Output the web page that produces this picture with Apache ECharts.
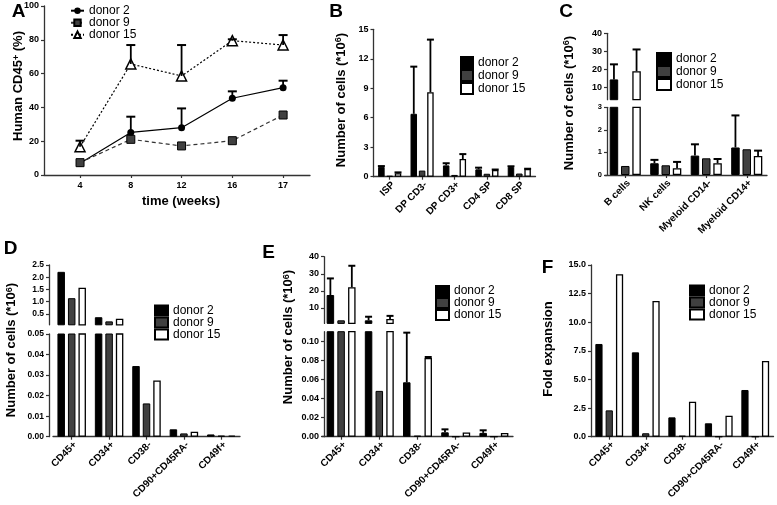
<!DOCTYPE html>
<html><head><meta charset="utf-8">
<script src="https://cdn.jsdelivr.net/npm/echarts@6/dist/echarts.min.js"></script>
<style>html,body{margin:0;padding:0;background:#fff}#c{width:777px;height:505px}</style>
</head><body><div id="c"></div>
<script>
// ---------- DATA ----------
// Panel A: Human CD45+ (%) over time
const weeks = ['4', '8', '12', '16', '17'];
const aDonor2 = [7, 25.2, 28, 45.4, 51.7];
const aDonor2Err = [0, 9.3, 11.4, 4.1, 4.1];
const aDonor9 = [7.3, 21.1, 17.2, 20.3, 35.5];
const aDonor15 = [16.7, 65.7, 58.6, 79.5, 76.9];
const aDonor15Err = [3.6, 11.2, 18.3, 0.8, 5.9];

// Panel B: thymus subsets
const bCats = ['ISP', 'DP CD3-', 'DP CD3+', 'CD4 SP', 'CD8 SP'];
const bDonor2 = [1.0, 6.4, 1.15, 0.75, 0.98];
const bDonor2Err = [0.08, 4.8, 0.22, 0.17, 0.08];
const bDonor9 = [0.08, 0.62, 0.18, 0.3, 0.32];
const bDonor15 = [0.36, 8.6, 1.8, 0.68, 0.78];
const bDonor15Err = [0.08, 5.35, 0.5, 0.05, 0.03];

// Panel C: other lineages
const cCats = ['B cells', 'NK cells', 'Myeloid CD14-', 'Myeloid CD14+'];
const cDonor2 = [14.3, 0.52, 0.86, 1.22];
const cDonor2Err = [8.4, 0.15, 0.5, 1.42];
const cDonor9 = [0.4, 0.43, 0.74, 1.14];
const cDonor15 = [18.9, 0.3, 0.52, 0.84];
const cDonor15Err = [12.1, 0.28, 0.19, 0.24];

// Panels D, E, F: stem/progenitor subsets
const sCats = ['CD45+', 'CD34+', 'CD38-', 'CD90+CD45RA-', 'CD49f+'];
const dDonor2 = [2.22, 0.36, 0.0344, 0.0036, 0.0011];
const dDonor9 = [1.14, 0.19, 0.0162, 0.0016, 0.0005];
const dDonor15 = [1.57, 0.3, 0.0274, 0.0024, 0.0006];

const eDonor2 = [17.6, 2.8, 0.057, 0.0046, 0.004];
const eDonor2Err = [9.7, 2.1, 0.052, 0.0031, 0.0027];
const eDonor9 = [2.8, 0.048, 0.001, 0, 0];
const eDonor15 = [22.1, 3.6, 0.0825, 0.0045, 0.004];
const eDonor15Err = [12.6, 1.8, 0.001, 0, 0];

const fDonor2 = [8.1, 7.37, 1.69, 1.17, 4.08];
const fDonor9 = [2.3, 0.3, 0.08, 0, 0];
const fDonor15 = [14.2, 11.86, 3.06, 1.84, 6.61];

// tick labels
const cUpperTicks = [10, 20, 30, 40];
const dUpperTicks = [0.5, 1.0, 1.5, 2.0, 2.5];
const eUpperTicks = [10, 20, 30, 40];
const eLowerTicks = [0, 0.02, 0.04, 0.06, 0.08, 0.10];

// ---------- STYLE ----------
const FONT = '"Liberation Sans", Arial, sans-serif';
const AXC = '#333';
const BLACK = '#000', GRAY = '#404040', WHITE = '#fff';
const axisLine = {show: true, onZero: false, lineStyle: {color: AXC, width: 1.3}};

function catX(gi, cats, show) {
  return {
    type: 'category', gridIndex: gi, data: cats, show: show,
    axisLine: axisLine,
    axisTick: {show: true, alignWithLabel: true, length: 3, lineStyle: {color: AXC, width: 1.2}},
    axisLabel: {rotate: 45, interval: 0, fontSize: 10, fontWeight: 'bold', color: '#000', margin: 3,
      verticalAlign: 'top', fontFamily: FONT},
    splitLine: {show: false}
  };
}
function valY(gi, o) {
  const ax = {
    type: 'value', gridIndex: gi, min: o.min, max: o.max, offset: o.offset || 0,
    splitLine: {show: false},
    axisLine: axisLine,
    axisTick: {show: true, length: 3, lineStyle: {color: AXC, width: 1.2}},
    axisLabel: {fontSize: o.fs || 9, fontWeight: 'bold', color: '#000', margin: 5, fontFamily: FONT,
      formatter: o.fmt || (v => String(v))}
  };
  if (o.interval) ax.interval = o.interval;
  if (o.ticks) { ax.axisTick.customValues = o.ticks; ax.axisLabel.customValues = o.ticks; }
  return ax;
}
function barSeries(p, xi, yi, w, gap, d2, d9, d15) {
  const base = {type: 'bar', xAxisIndex: xi, yAxisIndex: yi, barWidth: w, barGap: gap, z: 2, clip: true};
  return [
    Object.assign({}, base, {name: p + 'donor 2', data: d2, itemStyle: {color: BLACK, borderColor: '#000', borderWidth: 1}}),
    Object.assign({}, base, {name: p + 'donor 9', data: d9, itemStyle: {color: GRAY, borderColor: '#000', borderWidth: 1}}),
    Object.assign({}, base, {name: p + 'donor 15', data: d15, itemStyle: {color: WHITE, borderColor: '#000', borderWidth: 1.3}})
  ];
}
function errSeries(xi, yi, vals, errs, offset, halfCap) {
  return {
    type: 'custom', xAxisIndex: xi, yAxisIndex: yi, z: 5, silent: true,
    data: vals.map((v, i) => [i, v, errs[i]]),
    encode: {x: 0, y: 1},
    renderItem: function (params, api) {
      const empty = {type: 'group', children: []};
      const e = api.value(2);
      if (!e) return empty;
      const x = api.value(0), v = api.value(1);
      const p0 = api.coord([x, v]);
      const p1 = api.coord([x, v + e]);
      const cs = params.coordSys;
      const top = cs.y, bottom = cs.y + cs.height;
      if (p1[1] > bottom + 0.5 || p0[1] < top - 0.5) return empty;
      const y0 = Math.min(p0[1], bottom), y1 = Math.max(p1[1], top);
      const cx = p0[0] + offset;
      const ch = [{type: 'line', shape: {x1: cx, y1: y0, x2: cx, y2: y1}, style: {stroke: '#000', lineWidth: 1.8}}];
      if (p1[1] >= top - 0.5) ch.push({type: 'line', shape: {x1: cx - halfCap, y1: p1[1], x2: cx + halfCap, y2: p1[1]}, style: {stroke: '#000', lineWidth: 2}});
      return {type: 'group', children: ch};
    }
  };
}
function legend(p, left, top, iw, ih, lh, icon) {
  const l = {
    orient: 'vertical', left: left, top: top, padding: 0, itemGap: 0,
    itemWidth: iw, itemHeight: ih,
    textStyle: {fontSize: 12, lineHeight: lh, color: '#000', fontFamily: FONT},
    data: [p + 'donor 2', p + 'donor 9', p + 'donor 15'],
    formatter: n => n.slice(2)
  };
  if (icon) l.icon = icon;
  return l;
}
const supRich = {
  b: {fontSize: 13, fontWeight: 'bold', fontFamily: FONT, fill: '#000', color: '#000'},
  s: {fontSize: 9, fontWeight: 'bold', fontFamily: FONT, fill: '#000', color: '#000', verticalAlign: 'top', padding: [0, 0, 4, 0]}
};
function label(txt, x, y, rot, size) {
  return {
    type: 'text', x: x, y: y, rotation: rot, z: 100,
    style: {text: txt, rich: supRich, fontSize: size || 13, fontWeight: 'bold', fontFamily: FONT, fill: '#000',
      align: 'center', verticalAlign: 'middle', textAlign: 'center', textVerticalAlign: 'middle'}
  };
}
const numLabel = '{b|Number of cells (*10}{s|6}{b|)}';

// ---------- GRIDS ----------
const grids = [
  {left: 44, top: 6, width: 266, height: 169},          // 0 A
  {left: 373.5, top: 29.3, width: 162, height: 147.4},  // 1 B
  {left: 605, top: 33.3, width: 162, height: 66.4},     // 2 C upper
  {left: 605, top: 107.3, width: 162, height: 67.7},    // 3 C lower
  {left: 53, top: 265, width: 187, height: 59.8},       // 4 D upper
  {left: 53, top: 334, width: 187, height: 102.7},      // 5 D lower
  {left: 322, top: 256.7, width: 191, height: 66.7},    // 6 E upper
  {left: 322, top: 331.7, width: 191, height: 105},     // 7 E lower
  {left: 591, top: 265, width: 182.5, height: 171.7}    // 8 F
];

const xAxes = [
  {type: 'value', gridIndex: 0, min: -0.71, max: 4.53, splitLine: {show: false},
   axisLine: axisLine,
   axisTick: {show: true, length: 3, customValues: [0, 1, 2, 3, 4], lineStyle: {color: AXC, width: 1.2}},
   axisLabel: {customValues: [0, 1, 2, 3, 4], formatter: v => weeks[Math.round(v)], fontSize: 9, fontWeight: 'bold', color: '#000', margin: 6, fontFamily: FONT}},
  catX(1, bCats, true),
  catX(2, cCats, false), catX(3, cCats, true),
  catX(4, sCats, false), catX(5, sCats, true),
  catX(6, sCats, false), catX(7, sCats, true),
  catX(8, sCats, true)
];
const yAxes = [
  valY(0, {min: 0, max: 100, interval: 20}),
  valY(1, {min: 0, max: 15, interval: 3}),
  valY(2, {min: 3, max: 40, ticks: cUpperTicks, offset: -2}),
  valY(3, {min: 0, max: 3, interval: 1, fs: 7.5, offset: -2}),
  valY(4, {min: 0.05, max: 2.5, ticks: dUpperTicks, offset: 4, fs: 8.5, fmt: v => v.toFixed(1)}),
  valY(5, {min: 0, max: 0.05, interval: 0.01, offset: 4, fs: 8.5, fmt: v => v.toFixed(2)}),
  valY(6, {min: 1, max: 40, ticks: eUpperTicks, offset: -2}),
  valY(7, {min: 0, max: 0.11, ticks: eLowerTicks, offset: -2, fmt: v => v.toFixed(2)}),
  valY(8, {min: 0, max: 15, interval: 2.5, fmt: v => v.toFixed(1)})
];

// ---------- SERIES ----------
const series = [];
const pts = arr => weeks.map((w, i) => [i, arr[i]]);
series.push(
  {type: 'line', name: 'A:donor 2', xAxisIndex: 0, yAxisIndex: 0, data: pts(aDonor2), symbol: 'circle', symbolSize: 7, z: 4,
   itemStyle: {color: '#000'}, lineStyle: {color: '#000', width: 1.2}},
  {type: 'line', name: 'A:donor 9', xAxisIndex: 0, yAxisIndex: 0, data: pts(aDonor9), symbol: 'rect', symbolSize: 8, z: 4,
   itemStyle: {color: GRAY, borderColor: '#000', borderWidth: 1}, lineStyle: {color: '#333', width: 1.2, type: [4, 3]}},
  {type: 'line', name: 'A:donor 15', xAxisIndex: 0, yAxisIndex: 0, data: pts(aDonor15), symbol: 'triangle', symbolSize: 10, z: 4,
   itemStyle: {color: '#fff', borderColor: '#000', borderWidth: 1.5}, lineStyle: {color: '#000', width: 1.2, type: [2, 2]}},
  errSeries(0, 0, aDonor2, aDonor2Err, 0, 4.5),
  errSeries(0, 0, aDonor15, aDonor15Err, 0, 4.5)
);
// B
const bW = 6.5, bG = 0.28, bStep = bW * (1 + bG);
series.push(...barSeries('B:', 1, 1, bW, bG * 100 + '%', bDonor2, bDonor9, bDonor15));
series.push(errSeries(1, 1, bDonor2, bDonor2Err, -bStep, 3.5), errSeries(1, 1, bDonor15, bDonor15Err, bStep, 3.5));
// C
const cW = 8.5, cG = 0.33, cStep = cW * (1 + cG);
[2, 3].forEach(g => {
  series.push(...barSeries('C:', g, g, cW, cG * 100 + '%', cDonor2, cDonor9, cDonor15));
  series.push(errSeries(g, g, cDonor2, cDonor2Err, -cStep, 4), errSeries(g, g, cDonor15, cDonor15Err, cStep, 4));
});
// D
const dW = 7.5, dG = 0.4;
[4, 5].forEach(g => series.push(...barSeries('D:', g, g, dW, dG * 100 + '%', dDonor2, dDonor9, dDonor15)));
// E
const eW = 7.5, eG = 0.43, eStep = eW * (1 + eG);
[6, 7].forEach(g => {
  series.push(...barSeries('E:', g, g, eW, eG * 100 + '%', eDonor2, eDonor9, eDonor15));
  series.push(errSeries(g, g, eDonor2, eDonor2Err, -eStep, 3.5), errSeries(g, g, eDonor15, eDonor15Err, eStep, 3.5));
});
// F
series.push(...barSeries('F:', 8, 8, 7.2, '43%', fDonor2, fDonor9, fDonor15));

const option = {
  animation: false,
  backgroundColor: '#fff',
  textStyle: {fontFamily: FONT},
  grid: grids,
  xAxis: xAxes,
  yAxis: yAxes,
  legend: [
    legend('A:', 70, 4.7, 13, 8, 12),
    legend('B:', 460, 56, 12, 11, 13, 'rect'),
    legend('C:', 656, 52, 14, 11, 12, 'rect'),
    legend('D:', 154, 304.5, 13, 10, 12, 'rect'),
    legend('E:', 435, 285, 13, 10, 12, 'rect'),
    legend('F:', 689, 284.5, 14, 10, 12, 'rect')
  ],
  graphic: [
    label('A', 18.5, 12, 0, 19), label('B', 336, 12, 0, 19), label('C', 566, 12, 0, 19),
    label('D', 10.5, 248.5, 0, 19), label('E', 268.5, 253, 0, 19), label('F', 547.5, 267.5, 0, 19),
    label('{b|Human CD45}{s|+}{b| (%)}', 18.8, 86, Math.PI / 2),
    label('time (weeks)', 181, 201.7, 0),
    label(numLabel, 341, 100, Math.PI / 2),
    label(numLabel, 569, 103, Math.PI / 2),
    label(numLabel, 11.7, 350, Math.PI / 2),
    label(numLabel, 288.3, 337, Math.PI / 2),
    label('Fold expansion', 548, 349, Math.PI / 2)
  ],
  series: series
};
echarts.init(document.getElementById('c'), null, {renderer: 'canvas'}).setOption(option);
</script></body></html>
